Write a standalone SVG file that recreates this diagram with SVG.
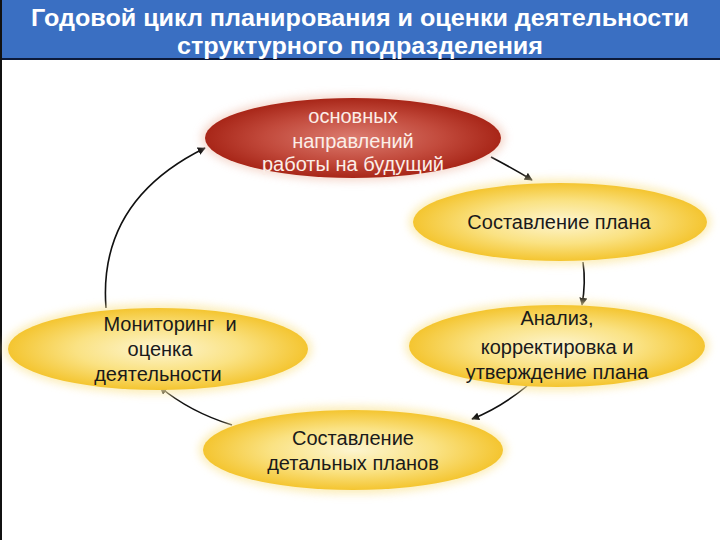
<svg xmlns="http://www.w3.org/2000/svg" width="720" height="540" viewBox="0 0 720 540">
<style>
.title{font-family:"Liberation Sans",Arial,sans-serif;font-weight:bold;font-size:24px;fill:#ffffff;text-anchor:middle}
.lbl{font-family:"Liberation Sans",Arial,sans-serif;font-size:20px;fill:#1a1a1a;text-anchor:middle}
.lblw{font-family:"Liberation Sans",Arial,sans-serif;font-size:20px;fill:#fbeee8;text-anchor:middle}
.conn{fill:none;stroke:#111;stroke-width:1.6}
</style>
<defs>
<radialGradient id="gy" cx="50%" cy="50%" r="50%">
<stop offset="0" stop-color="#fdf5d0"/>
<stop offset="0.55" stop-color="#fae283"/>
<stop offset="1" stop-color="#f4c530"/>
</radialGradient>
<radialGradient id="gr" cx="50%" cy="50%" r="50%">
<stop offset="0" stop-color="#dc7c70"/>
<stop offset="0.6" stop-color="#c24a3c"/>
<stop offset="1" stop-color="#a82618"/>
</radialGradient>
<filter id="glow" x="-20%" y="-30%" width="140%" height="160%">
<feGaussianBlur stdDeviation="4"/>
</filter>
<marker id="ah" viewBox="0 0 10 10" refX="9" refY="5" markerWidth="8" markerHeight="8" orient="auto" markerUnits="userSpaceOnUse">
<path d="M0,0 L10,5 L0,10 z" fill="#111"/>
</marker>
</defs>
<rect x="0" y="0" width="720" height="540" fill="#ffffff"/>
<g id="header">
<rect x="0" y="0" width="720" height="59" fill="#3a6fc2"/>
<rect x="0" y="58" width="720" height="2" fill="#0c1a3a"/>
<rect x="0" y="0" width="2" height="540" fill="#111"/>
<text class="title" x="360" y="26" textLength="658" lengthAdjust="spacingAndGlyphs">Годовой цикл планирования и оценки деятельности</text>
<text class="title" x="360" y="54" textLength="366" lengthAdjust="spacingAndGlyphs">структурного подразделения</text>
</g>
<g id="connectors">
<path class="conn" d="M491,157 Q512,168 532,180" marker-end="url(#ah)"/>
<path class="conn" d="M583,262 Q586,283 582,305" marker-end="url(#ah)"/>
<path class="conn" d="M527,386 Q500,408 472,419" marker-end="url(#ah)"/>
<path class="conn" d="M232,425 Q190,412 160,387" marker-end="url(#ah)"/>
<path class="conn" d="M106,308 C100,230 140,180 205,148" marker-end="url(#ah)"/>
</g>
<g id="node-directions">
<ellipse cx="353" cy="138" rx="152" ry="43" fill="#f1c8b8" opacity="0.7" filter="url(#glow)"/>
<ellipse cx="353" cy="138" rx="148" ry="40" fill="url(#gr)"/>
<text class="lblw" x="353" y="123">основных</text>
<text class="lblw" x="353" y="148">направлений</text>
<text class="lblw" x="353" y="171">работы на будущий</text>
</g>
<g id="node-plan">
<ellipse cx="560" cy="222" rx="151" ry="43" fill="#fbe9a8" opacity="0.8" filter="url(#glow)"/>
<ellipse cx="560" cy="222" rx="147" ry="39" fill="url(#gy)"/>
<text class="lbl" x="559" y="229">Составление плана</text>
</g>
<g id="node-analysis">
<ellipse cx="557" cy="346" rx="152" ry="45" fill="#fbe9a8" opacity="0.8" filter="url(#glow)"/>
<ellipse cx="557" cy="346" rx="148" ry="41" fill="url(#gy)"/>
<text class="lbl" x="557" y="325">Анализ,</text>
<text class="lbl" x="557" y="354">корректировка и</text>
<text class="lbl" x="557" y="379">утверждение плана</text>
</g>
<g id="node-detailed">
<ellipse cx="353" cy="450" rx="154" ry="44" fill="#fbe9a8" opacity="0.8" filter="url(#glow)"/>
<ellipse cx="353" cy="450" rx="150" ry="40" fill="url(#gy)"/>
<text class="lbl" x="353" y="445">Составление</text>
<text class="lbl" x="353" y="470">детальных планов</text>
</g>
<g id="node-monitoring">
<ellipse cx="158" cy="349" rx="154" ry="45" fill="#fbe9a8" opacity="0.8" filter="url(#glow)"/>
<ellipse cx="158" cy="349" rx="150" ry="41" fill="url(#gy)"/>
<text class="lbl" x="170" y="331" xml:space="preserve">Мониторинг  и</text>
<text class="lbl" x="160" y="356">оценка</text>
<text class="lbl" x="158" y="381">деятельности</text>
</g>
</svg>
